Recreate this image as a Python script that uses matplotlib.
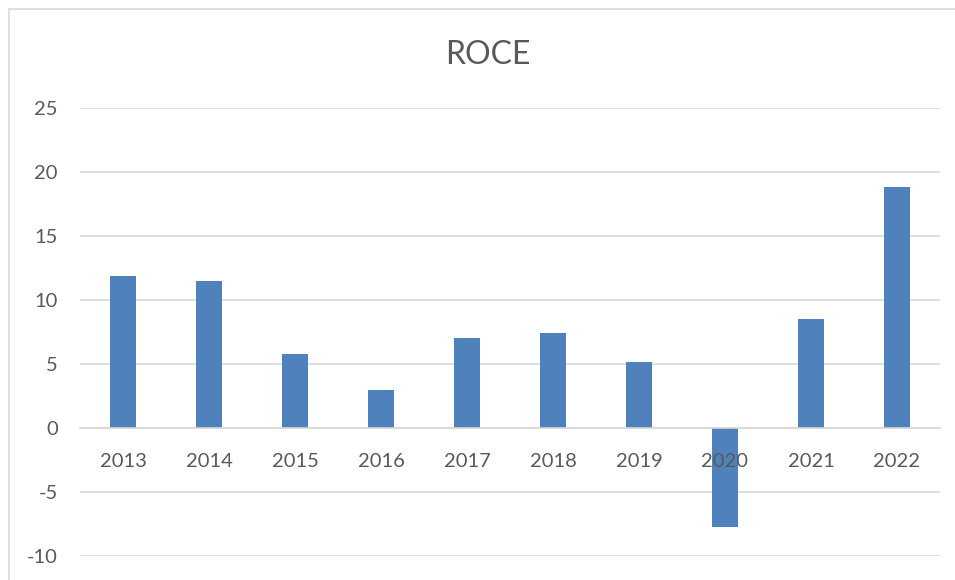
import matplotlib
matplotlib.use("Agg")
from matplotlib import pyplot as plt
from matplotlib.patches import Rectangle

# ROCE per year
years = ["2013", "2014", "2015", "2016", "2017", "2018", "2019", "2020", "2021", "2022"]
roce = [11.85, 11.5, 5.8, 2.95, 7.0, 7.45, 5.15, -7.7, 8.5, 18.8]
y_ticks = [-10, -5, 0, 5, 10, 15, 20, 25]

plt.rcParams["font.family"] = ["Lato", "DejaVu Sans"]
plt.rcParams["axes.unicode_minus"] = False
text_col = "#595959"
grid_col = "#D9D9D9"

W, H = 955, 580
fig = plt.figure(figsize=(W / 100, H / 100), dpi=100)

# chart frame (right and bottom edges fall outside the picture)
fig.patches.append(Rectangle((8.5 / W, -0.1), 2, 1 - 9.5 / H + 0.1,
                             transform=fig.transFigure, fill=False,
                             edgecolor=grid_col, linewidth=1.2))

ax = fig.add_axes([80 / W, 1 - 556 / H, 860 / W, 448 / H])
x = range(len(years))
ax.bar(x, roce, width=0.31, color="#4F81BD", zorder=2)

ax.set_xlim(-0.5, len(years) - 0.5)
ax.set_ylim(-10, 25)
ax.set_yticks(y_ticks)
ax.yaxis.grid(True, color=grid_col, linewidth=1.2, zorder=0)
ax.set_axisbelow(True)

for s in ["top", "right", "left"]:
    ax.spines[s].set_visible(False)
ax.spines["bottom"].set_position(("data", 0))
ax.spines["bottom"].set_color(grid_col)
ax.spines["bottom"].set_linewidth(1.2)

ax.set_xticks(list(x))
ax.set_xticklabels(years)
ax.tick_params(axis="x", length=0, pad=18, labelsize=14.5, labelcolor=text_col)
ax.tick_params(axis="y", length=0, pad=16, labelsize=14.5, labelcolor=text_col)
ax.xaxis.set_zorder(5)  # year labels sit on top of the 2020 bar

fig.text(488 / W, 1 - 55 / H, "ROCE", ha="center", va="center",
         fontsize=23, color=text_col)

fig.savefig("out.png", dpi=100)
